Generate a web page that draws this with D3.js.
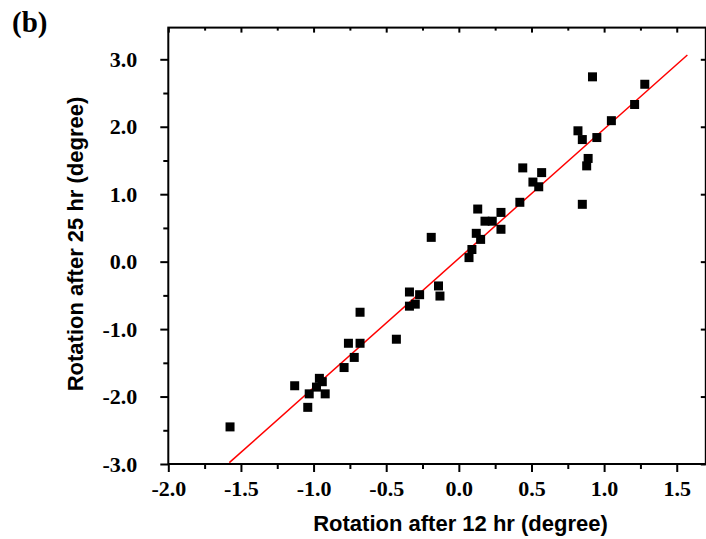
<!DOCTYPE html>
<html>
<head>
<meta charset="utf-8">
<script src="https://cdn.jsdelivr.net/npm/d3@7"></script>
<style>
  body { margin: 0; background: #fff; }
</style>
</head>
<body>
<div class="chart"></div>
<script>
// rotation after 12 hr (x) vs after 25 hr (y), degrees
const rot12 = [-1.575, -1.13, -1.04, -1.03, -0.96, -0.94, -0.98, -0.92, -0.79, -0.76,
    -0.68, -0.68, -0.72, -0.43, -0.34, -0.34, -0.27, -0.30, -0.14, -0.13,
    -0.19, 0.07, 0.09, 0.12, 0.15, 0.13, 0.18, 0.23, 0.29, 0.29,
    0.42, 0.44, 0.57, 0.51, 0.55, 0.85, 0.88, 0.89, 0.82, 0.85,
    0.95, 0.92, 1.05, 1.21, 1.28]
const rot25 = [-2.45, -1.84, -2.16, -1.96, -1.73, -1.78, -1.86, -1.96, -1.57, -1.21,
    -0.75, -1.21, -1.42, -1.15, -0.45, -0.66, -0.49, -0.63, -0.36, -0.51,
    0.36, 0.06, 0.18, 0.42, 0.33, 0.78, 0.60, 0.60, 0.73, 0.48,
    0.88, 1.39, 1.32, 1.18, 1.11, 0.85, 1.42, 1.53, 1.94, 1.81,
    1.84, 2.74, 2.09, 2.33, 2.63]

// fitted line end points
const fitX = [-1.58, 1.573]
const fitY = [-2.98, 3.064]

const xTicks = [-2.0, -1.5, -1.0, -0.5, 0.0, 0.5, 1.0, 1.5]
const yTicks = [-3.0, -2.0, -1.0, 0.0, 1.0, 2.0, 3.0]
const xMinor = [-1.75, -1.25, -0.75, -0.25, 0.25, 0.75, 1.25]
const yMinor = [-2.5, -1.5, -0.5, 0.5, 1.5, 2.5]

const W = 706, H = 539
const x0 = 168.3, x1 = 705.8
const yBot = 464, yTop = 27.6

const data = rot12.map((d, i) => ({x: d, y: rot25[i]}))

let svg = d3.select('.chart')
    .append('svg')
    .attr('width', W)
    .attr('height', H)

let xScale = d3.scaleLinear()
    .domain([-2, 1.7])
    .range([x0, x1])

let yScale = d3.scaleLinear()
    .domain([-3, 3.47])
    .range([yBot, yTop])

const fmt = d => d.toFixed(1)
const serif = "'Liberation Serif', 'Times New Roman', serif"
const sans = "'Liberation Sans', Arial, sans-serif"

// bottom axis, labelled, ticks outward
svg.append('g')
    .attr('transform', `translate(0, ${yBot})`)
    .call(d3.axisBottom(xScale).tickValues(xTicks).tickSize(8).tickPadding(8).tickFormat(fmt))
    .call(g => g.select('.domain').remove())
    .call(g => g.selectAll('.tick line').attr('stroke-width', 2))
    .call(g => g.selectAll('.tick text')
        .attr('font-family', serif).attr('font-weight', 700).attr('font-size', 22).attr('fill', '#000'))

svg.append('g')
    .attr('transform', `translate(0, ${yBot})`)
    .call(d3.axisBottom(xScale).tickValues(xMinor).tickSize(5).tickFormat(''))
    .call(g => g.select('.domain').remove())
    .call(g => g.selectAll('.tick line').attr('stroke-width', 2))

// left axis
svg.append('g')
    .attr('transform', `translate(${x0}, 0)`)
    .call(d3.axisLeft(yScale).tickValues(yTicks).tickSize(8).tickPadding(23).tickFormat(fmt))
    .call(g => g.select('.domain').remove())
    .call(g => g.selectAll('.tick line').attr('stroke-width', 2))
    .call(g => g.selectAll('.tick text')
        .attr('font-family', serif).attr('font-weight', 700).attr('font-size', 22).attr('fill', '#000'))

svg.append('g')
    .attr('transform', `translate(${x0}, 0)`)
    .call(d3.axisLeft(yScale).tickValues(yMinor).tickSize(5).tickFormat(''))
    .call(g => g.select('.domain').remove())
    .call(g => g.selectAll('.tick line').attr('stroke-width', 2))

// top and right axes, ticks inward, no labels
svg.append('g')
    .attr('transform', `translate(0, ${yTop})`)
    .call(d3.axisBottom(xScale).tickValues(xTicks).tickSize(5).tickFormat(''))
    .call(g => g.select('.domain').remove())
    .call(g => g.selectAll('.tick line').attr('stroke-width', 2))

svg.append('g')
    .attr('transform', `translate(0, ${yTop})`)
    .call(d3.axisBottom(xScale).tickValues(xMinor).tickSize(3).tickFormat(''))
    .call(g => g.select('.domain').remove())
    .call(g => g.selectAll('.tick line').attr('stroke-width', 2))

svg.append('g')
    .attr('transform', `translate(${x1}, 0)`)
    .call(d3.axisLeft(yScale).tickValues(yTicks).tickSize(5).tickFormat(''))
    .call(g => g.select('.domain').remove())
    .call(g => g.selectAll('.tick line').attr('stroke-width', 2))

// frame
svg.append('rect')
    .attr('x', x0)
    .attr('y', yTop)
    .attr('width', x1 - x0)
    .attr('height', yBot - yTop)
    .attr('fill', 'none')
    .attr('stroke', '#000')
    .attr('stroke-width', 2)

// fit line
const line = d3.line()
    .x(d => xScale(d[0]))
    .y(d => yScale(d[1]))

svg.append('path')
    .datum(fitX.map((d, i) => [d, fitY[i]]))
    .attr('fill', 'none')
    .attr('stroke', '#ff0000')
    .attr('stroke-width', 1.5)
    .attr('d', line)

// points
const s = 9
svg.append('g')
    .selectAll('rect')
    .data(data)
    .join('rect')
    .attr('x', d => xScale(d.x) - s / 2)
    .attr('y', d => yScale(d.y) - s / 2)
    .attr('width', s)
    .attr('height', s)
    .attr('fill', '#000')

// axis titles
svg.append('text')
    .attr('x', 460.5)
    .attr('y', 530.5)
    .attr('text-anchor', 'middle')
    .attr('font-family', sans)
    .attr('font-weight', 700)
    .attr('font-size', 22)
    .text('Rotation after 12 hr (degree)')

svg.append('text')
    .attr('transform', 'translate(83, 244) rotate(-90)')
    .attr('text-anchor', 'middle')
    .attr('font-family', sans)
    .attr('font-weight', 700)
    .attr('font-size', 22)
    .text('Rotation after 25 hr (degree)')

// panel label
svg.append('text')
    .attr('x', 12)
    .attr('y', 32)
    .attr('font-family', serif)
    .attr('font-weight', 700)
    .attr('font-size', 29)
    .text('(b)')
</script>
</body>
</html>
